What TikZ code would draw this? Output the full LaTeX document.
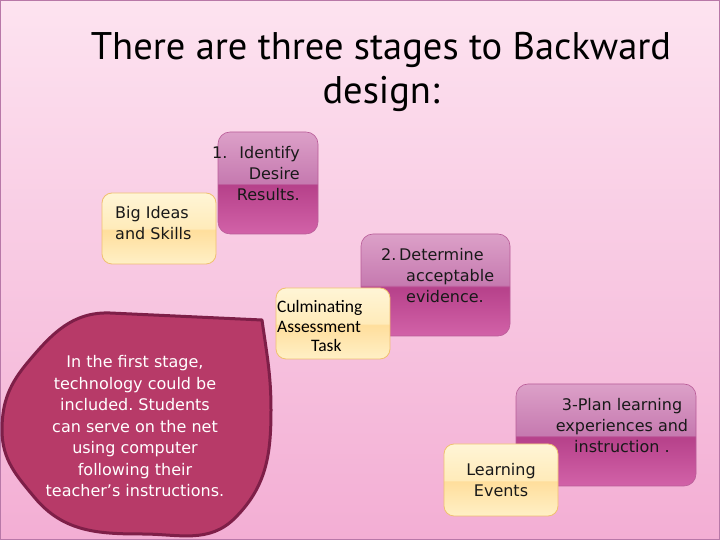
\documentclass[tikz,border=0pt]{standalone}
\usepackage{fontspec}
\setmainfont{PT Sans}
\newfontfamily\boxfont{DejaVu Sans}
\newfontfamily\culmfont{Carlito}
\frenchspacing
\definecolor{bgtop}{HTML}{FDE3F0}
\definecolor{bgbot}{HTML}{F3AED4}
\definecolor{slideedge}{HTML}{B878A8}
\definecolor{magtop}{HTML}{DCA0C8}
\definecolor{magup}{HTML}{C67AB0}
\definecolor{maglow}{HTML}{B6418A}
\definecolor{magbot}{HTML}{D262A8}
\definecolor{magedge}{HTML}{B95C98}
\definecolor{yeltop}{HTML}{FFF5D6}
\definecolor{yelup}{HTML}{FFEBBA}
\definecolor{yellow2}{HTML}{FFDE9C}
\definecolor{yelbot}{HTML}{FFF0C6}
\definecolor{yeledge}{HTML}{F0C070}
\definecolor{blobfill}{HTML}{B73A68}
\definecolor{blobedge}{HTML}{7E1F48}
\pgfdeclareverticalshading{magglass}{100bp}{color(0bp)=(magbot); color(25bp)=(magbot); color(49bp)=(maglow); color(50bp)=(magup); color(75bp)=(magtop); color(100bp)=(magtop)}
\pgfdeclareverticalshading{yelglass}{100bp}{color(0bp)=(yelbot); color(25bp)=(yelbot); color(49bp)=(yellow2); color(50bp)=(yelup); color(75bp)=(yeltop); color(100bp)=(yeltop)}
\begin{document}
\begin{tikzpicture}[x=1pt,y=1pt,
    stagebox/.style={draw=magedge, line width=0.6pt, shading=magglass, rounded corners=12pt, inner sep=0pt},
    notebox/.style={draw=yeledge, line width=0.8pt, shading=yelglass, rounded corners=10pt, inner sep=0pt},
    boxtext/.style={font=\boxfont\fontsize{16}{21}\selectfont, text=black!90, inner sep=0pt}]
    \useasboundingbox (0,0) rectangle (720,540);

    % Background
    \shade[top color=bgtop, bottom color=bgbot] (0,0) rectangle (720,540);
    \draw[slideedge, line width=1.2pt] (0.6,0.6) rectangle (719.4,539.4);

    % Title
    \node[font=\fontsize{38.5}{44}\selectfont, align=center] (title) at (381,468) {There are three stages to Backward\\design:};

    % Stage 1
    \node[stagebox, minimum width=100pt, minimum height=102pt] (stage1) at (268,357) {};
    \node[notebox, minimum width=114pt, minimum height=71pt] (bigideas) at (159,311.5) {};
    \node[boxtext, align=right, anchor=east] (stage1txt) at (300,366) {1.\hspace{12pt}Identify\\Desire\\Results.};
    \node[boxtext, align=left, anchor=west] (bigideastxt) at (115,316.5) {Big Ideas\\and Skills};

    % Stage 2
    \node[stagebox, minimum width=149pt, minimum height=102pt] (stage2) at (435.5,255) {};
    \node[notebox, minimum width=114pt, minimum height=71pt] (culm) at (333,216.5) {};
    \node[boxtext, align=left, anchor=west] (stage2txt) at (381,264) {2.\,Determine\\\hspace*{25pt}acceptable\\\hspace*{25pt}evidence.};
    \node[font=\culmfont\fontsize{17.5}{19.5}\selectfont, inner sep=0pt, align=left, anchor=west] (culmtxt) at (277,214) {Culminating\\Assessment\\\hspace*{34pt}Task};

    % Stage 3
    \node[stagebox, minimum width=180pt, minimum height=102pt] (stage3) at (606,105) {};
    \node[notebox, minimum width=114pt, minimum height=72pt] (events) at (501,60) {};
    \node[boxtext, align=center] (stage3txt) at (622,114) {3-Plan learning\\experiences and\\instruction .};
    \node[boxtext, align=center] (eventstxt) at (501,59.5) {Learning\\Events};

    % Comment blob
    \filldraw[fill=blobfill, draw=blobedge, line width=3pt, line join=round]
      (110,227) -- (262,220) to[out=-82,in=90] (271,130) to[out=-90,in=45] (235,22)
      to[out=-135,in=0] (142,6) to[out=180,in=-50] (35,42) to[out=130,in=-90] (2,110)
      to[out=90,in=-130] (28,178) to[out=50,in=178] cycle;
    \node[font=\boxfont\fontsize{16}{21.5}\selectfont, text=white, align=center, inner sep=0pt] (blobtxt) at (135,113.5)
      {In the first stage,\\technology could be\\included. Students\\can serve on the net\\using computer\\following their\\teacher’s instructions.};
\end{tikzpicture}
\end{document}
